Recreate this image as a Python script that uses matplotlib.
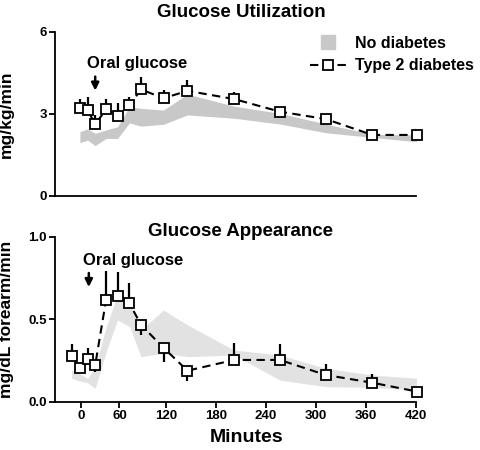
import matplotlib
matplotlib.use('Agg')
import matplotlib.pyplot as plt
from matplotlib.lines import Line2D
from matplotlib.scale import FuncScale
import numpy as np

plt.rcParams['font.family'] = ['Liberation Sans', 'DejaVu Sans']
plt.rcParams['font.weight'] = 'bold'

# time points (minutes)
t_app = [-15, -2, 10, 22, 39, 57, 73, 88, 117, 146, 202, 257, 312, 368, 422]
t_util = t_app[1:]

# Glucose utilization (mg/kg/min)
util_t2d = [3.20, 3.14, 2.62, 3.16, 2.93, 3.32, 3.89, 3.57, 3.84, 3.54, 3.08, 2.81, 2.23, 2.23]
util_err = [0.34, 0.48, 0.34, 0.37, 0.45, 0.30, 0.44, 0.30, 0.39, 0.24, 0.14, 0.15, 0.05, 0.26]
util_nd_hi = [2.35, 2.45, 2.29, 2.41, 2.53, 3.26, 3.20, 3.14, 3.72, 3.28, 3.02, 2.63, 2.25, 2.23]
util_nd_lo = [1.95, 2.04, 1.84, 2.10, 2.10, 2.67, 2.55, 2.62, 2.96, 2.84, 2.63, 2.31, 2.14, 1.98]

# Glucose appearance (mg/dL forearm/min); negative error = bar drawn downward
app_t2d = [0.277, 0.202, 0.259, 0.222, 0.616, 0.640, 0.596, 0.465, 0.327, 0.188, 0.253, 0.253, 0.162, 0.115, 0.061]
app_err = [0.071, 0.0, 0.068, -0.04, 0.174, 0.145, 0.122, -0.062, -0.085, -0.061, 0.101, 0.095, 0.066, 0.053, 0.0]
app_nd_hi = [0.192, 0.17, 0.14, 0.21, 0.45, 0.65, 0.60, 0.435, 0.556, 0.465, 0.313, 0.283, 0.202, 0.162, 0.142]
app_nd_lo = [0.141, 0.125, 0.115, 0.081, 0.30, 0.495, 0.455, 0.273, 0.293, 0.273, 0.283, 0.131, 0.091, 0.087, 0.071]

xticks = [0, 60, 120, 180, 240, 300, 360, 420]

# the time axis is compressed in the first two hours
knots_t = [-60, 0, 60, 120, 480]
knots_u = [-38.3, 0, 38.3, 84.7, 384.7]


def fwd(x):
    return np.interp(x, knots_t, knots_u)


def inv(u):
    return np.interp(u, knots_u, knots_t)


arrow = dict(arrowstyle='-|>', color='black', lw=1.8, mutation_scale=11,
             shrinkA=0, shrinkB=0)

fig = plt.figure(figsize=(4.8, 4.5), dpi=100)
ax1 = fig.add_axes([55 / 480, 254 / 450, 360.7 / 480, 164.3 / 450])
ax2 = fig.add_axes([55 / 480, 48.3 / 450, 360.7 / 480, 165 / 450])

for ax in (ax1, ax2):
    ax.set_xscale(FuncScale(ax.xaxis, (fwd, inv)))
    ax.set_xlim(-41, 420)
    ax.spines['top'].set_visible(False)
    ax.spines['right'].set_visible(False)
    ax.spines['left'].set_linewidth(1.3)
    ax.spines['bottom'].set_linewidth(1.3)
    ax.tick_params(width=1.3, length=4, labelsize=9.5, pad=2)

# top panel
ax1.fill_between(t_util, util_nd_lo, util_nd_hi, color='#c8c8c8', lw=0, zorder=1)
ax1.vlines(t_util, util_t2d, np.array(util_t2d) + np.array(util_err), color='black', lw=1.6, zorder=2)
ax1.plot(t_util, util_t2d, ls=(0, (4, 2.6)), color='black', lw=1.5, marker='s', ms=7,
         mfc='white', mec='black', mew=1.3, zorder=3, clip_on=False)
ax1.set_ylim(0, 6)
ax1.set_yticks([0, 3, 6])
ax1.set_xticks([])
ax1.set_ylabel('mg/kg/min', fontsize=12.5, fontweight='bold')
ax1.yaxis.set_label_coords(-0.115, 0.5)
ax1.text(0.516, 1.091, 'Glucose Utilization', transform=ax1.transAxes, ha='center',
         va='baseline', fontsize=13.5, fontweight='bold')
ax1.annotate('', xy=(22, 3.85), xytext=(22, 4.36), arrowprops=arrow)
ax1.text(9, 4.67, 'Oral glucose', fontsize=12, fontweight='bold', va='baseline')

# bottom panel
ax2.fill_between(t_app, app_nd_lo, app_nd_hi, color='#e2e2e2', lw=0, zorder=1)
ax2.vlines(t_app, app_t2d, np.array(app_t2d) + np.array(app_err), color='black', lw=1.6, zorder=2)
ax2.plot(t_app, app_t2d, ls=(0, (4, 2.6)), color='black', lw=1.5, marker='s', ms=7,
         mfc='white', mec='black', mew=1.3, zorder=3, clip_on=False)
ax2.set_ylim(0, 1.0)
ax2.set_yticks([0.0, 0.5, 1.0])
ax2.set_yticklabels(['0.0', '0.5', '1.0'])
ax2.set_xticks(xticks)
ax2.set_xticklabels([str(v) for v in xticks])
ax2.set_ylabel('mg/dL forearm/min', fontsize=12.5, fontweight='bold')
ax2.yaxis.set_label_coords(-0.115, 0.5)
ax2.text(0.514, 1.004, 'Glucose Appearance', transform=ax2.transAxes, ha='center',
         va='baseline', fontsize=13.5, fontweight='bold')
ax2.text(0.531, -0.242, 'Minutes', transform=ax2.transAxes, ha='center',
         va='baseline', fontsize=14, fontweight='bold')
ax2.annotate('', xy=(12, 0.695), xytext=(12, 0.78), arrowprops=arrow)
ax2.text(3, 0.83, 'Oral glucose', fontsize=12, fontweight='bold', va='baseline')

handles = [
    Line2D([], [], ls='none', marker='s', ms=10, mfc='#c8c8c8', mec='#c8c8c8'),
    Line2D([], [], ls=(0, (4, 2.6)), color='black', lw=1.5, marker='s', ms=7,
           mfc='white', mec='black', mew=1.3),
]
fig.legend(handles, ['No diabetes', 'Type 2 diabetes'], loc='upper left',
           bbox_to_anchor=(310 / 480, 1 - 36 / 450), frameon=False, fontsize=11.5,
           borderpad=0, borderaxespad=0, handlelength=2.3, handletextpad=0.5,
           labelspacing=0.45)

fig.savefig('out.png', dpi=100)
